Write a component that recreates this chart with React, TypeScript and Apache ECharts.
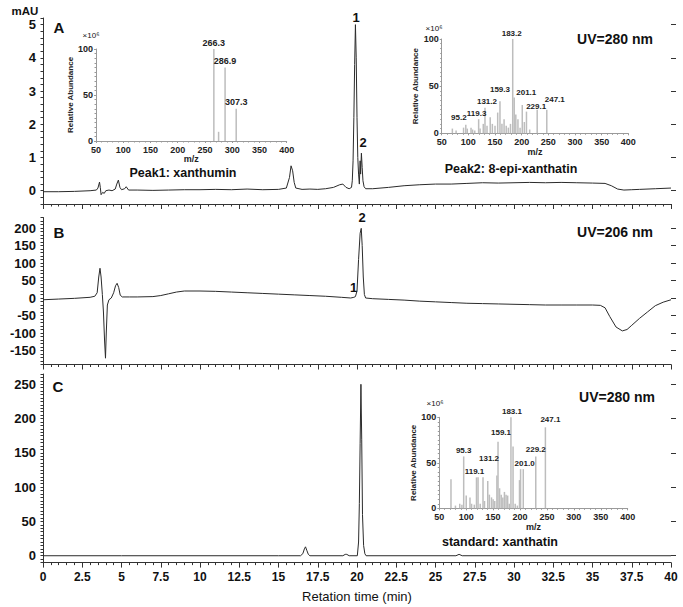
import React, { useEffect, useRef } from 'react';
import * as echarts from 'echarts';

// ---- Chromatogram traces: [time (min), signal] ----
const traceA: [number, number][] = [
  [0, -0.03], [1, -0.03], [2, -0.02], [3, 0.0], [3.4, 0.02], [3.5, 0.08], [3.6, 0.26], [3.65, 0.1],
  [3.7, -0.12], [3.8, -0.05], [3.9, -0.08], [4.0, 0.0], [4.2, 0.02], [4.4, 0.0], [4.6, 0.05],
  [4.7, 0.2], [4.8, 0.32], [4.9, 0.1], [5.0, 0.03], [5.2, 0.06], [5.3, 0.12], [5.45, 0.02],
  [6, 0.02], [7, 0.01], [8, 0.02], [9, 0.03], [10, 0.03], [11, 0.04], [12, 0.03], [13, 0.05],
  [14, 0.03], [15, 0.04], [15.5, 0.08], [15.7, 0.4], [15.8, 0.75], [15.9, 0.6], [16.0, 0.25],
  [16.1, 0.08], [16.5, 0.04], [17, 0.05], [17.5, 0.04], [18, 0.06], [18.5, 0.1], [18.9, 0.18],
  [19.1, 0.2], [19.3, 0.1], [19.5, 0.06], [19.65, 0.1], [19.7, 0.3], [19.75, 0.9], [19.8, 2.2],
  [19.85, 3.8], [19.9, 5.0], [19.95, 4.0], [20.0, 2.2], [20.05, 1.0], [20.1, 0.5], [20.15, 0.2],
  [20.2, 0.9], [20.23, 0.5], [20.28, 1.13], [20.33, 0.7], [20.38, 0.3], [20.45, 0.12], [20.55, 0.06],
  [21, 0.06], [22, 0.1], [23, 0.15], [24, 0.18], [25, 0.2], [26, 0.2], [27, 0.22], [28, 0.24],
  [29, 0.23], [30, 0.24], [31, 0.25], [32, 0.24], [33, 0.25], [34, 0.24], [35, 0.23], [35.8, 0.22],
  [36.2, 0.15], [36.6, 0.05], [37, 0.02], [37.5, 0.03], [38, 0.04], [39, 0.06], [40, 0.08],
];

const traceB: [number, number][] = [
  [0, -5], [1, -3], [2, -1], [3, 2], [3.3, 5], [3.45, 15], [3.55, 60], [3.63, 85], [3.7, 60],
  [3.78, 10], [3.85, -40], [3.92, -120], [3.98, -172], [4.03, -100], [4.1, -20], [4.2, -5],
  [4.35, 0], [4.5, 15], [4.62, 35], [4.72, 42], [4.82, 30], [4.92, 8], [5.05, 3], [5.5, 3],
  [6, 3], [7, 4], [7.5, 7], [8, 12], [8.5, 17], [9, 20], [10, 20], [11, 19], [12, 17], [13, 15],
  [14, 13], [15, 11], [16, 9], [17, 7], [18, 5], [19, 2], [19.6, 0], [19.8, 2], [19.9, 4],
  [20.0, 20], [20.1, 110], [20.2, 185], [20.27, 199], [20.33, 150], [20.4, 60], [20.47, 10],
  [20.55, 0], [21, -2], [22, -4], [23, -6], [24, -9], [25, -11], [26, -13], [27, -15], [28, -16],
  [29, -17], [30, -18], [31, -19], [32, -20], [33, -20], [34, -20], [35, -20], [35.5, -21],
  [35.8, -28], [36.1, -53], [36.5, -83], [36.9, -94], [37.2, -90], [37.5, -78], [38, -58],
  [38.5, -40], [39, -22], [39.5, -12], [40, -5],
];

const traceC: [number, number][] = [
  [0, 0], [5, 0], [10, 0], [15, 0], [16.4, 0], [16.55, 3], [16.65, 10], [16.72, 13], [16.8, 8],
  [16.9, 2], [17.0, 0], [19.1, 0], [19.25, 2], [19.35, 2], [19.5, 0], [20.02, 0], [20.1, 20],
  [20.15, 76], [20.2, 164], [20.25, 250], [20.3, 170], [20.35, 60], [20.42, 15], [20.5, 3],
  [20.58, 0], [26.3, 0], [26.5, 2], [26.7, 0], [30, 0], [40, 0],
];

// ---- Mass spectra (m/z, relative abundance, label) ----
const ms1MZ = [266.3, 275, 286.9, 307.3];
const ms1Abund = [100, 10, 80, 35];
const ms1Labels = ['266.3', '', '286.9', '307.3'];

const ms2MZ = [70, 77, 91, 95.2, 98, 105, 108, 112, 119.3, 122, 128, 131.2, 135, 141, 145, 150, 155, 159.3,
  163, 167, 171, 175, 179, 183.2, 186, 189, 193, 197, 201.1, 205, 209, 215, 229.1, 247.1];
const ms2Abund = [5, 3, 6, 9, 5, 6, 4, 3, 15, 5, 10, 27, 8, 17, 10, 8, 22, 34,
  10, 15, 8, 6, 10, 100, 38, 20, 15, 6, 30, 12, 23, 4, 25, 25];
const ms2Labels = ['', '', '', '95.2', '', '', '', '', '119.3', '', '', '131.2', '', '', '', '', '', '159.3',
  '', '', '', '', '', '183.2', '', '', '', '', '201.1', '', '', '', '229.1', '247.1'];

const ms3MZ = [71.7, 80, 88, 92, 95.3, 100, 107, 110, 115, 119.1, 122, 126, 131.2, 134, 140, 143, 147, 150,
  153, 157, 159.1, 162, 165, 168, 171, 174, 177, 180, 183.1, 187, 191, 195, 199, 201.0, 206, 229.2, 247.1];
const ms3Abund = [32, 3, 5, 4, 57, 14, 12, 5, 4, 34, 34, 5, 34, 8, 30, 15, 12, 10,
  8, 36, 73, 22, 15, 12, 18, 15, 14, 5, 100, 68, 5, 3, 31, 43, 43, 57, 89];
const ms3Labels = ['', '', '', '', '95.3', '', '', '', '', '119.1', '', '', '131.2', '', '', '', '', '',
  '', '', '159.1', '', '', '', '', '', '', '', '183.1', '', '', '', '', '201.0', '', '229.2', '247.1'];

const majorA = [0, 1, 2, 3, 4, 5];
const majorB = [-150, -100, -50, 0, 50, 100, 150, 200];
const majorC = [0, 50, 100, 150, 200, 250];

// ---- styling ----
const ARIAL = "'Liberation Sans', Arial, sans-serif";
const AX = '#333';
const INSET_AX = '#9a9a9a';

// label nudges (pixels) so the peak labels sit as in the reference
const labelNudge: Record<string, [number, number]>[] = [
  {},
  {
    '95.2': [-7, -1], '119.3': [-2, 0], '131.2': [2, 0], '159.3': [0, -6], '183.2': [-1, 0],
    '201.1': [4, -7], '229.1': [-1, 3], '247.1': [8, -4],
  },
  {
    '95.3': [0, 0], '119.1': [-2, 0], '131.2': [6, -13], '159.1': [3, -3], '183.1': [1, 0],
    '201.0': [4, 0], '229.2': [0, -1], '247.1': [5, -2],
  },
];

function buildBars(mz: number[], ab: number[], labels: string[], nudge: Record<string, [number, number]>) {
  return mz.map((m, i) => ({
    value: [m, ab[i]],
    label: { show: !!labels[i], formatter: labels[i], offset: nudge[labels[i]] || [0, 0] },
  }));
}

export default function App() {
  const ref = useRef<HTMLDivElement>(null);
  useEffect(() => {
    document.body.style.margin = '0';
    const chart = echarts.init(ref.current!, undefined, { renderer: 'svg' });

    const mainGrids = [
      { left: 43, top: 18, width: 628, height: 186 },
      { left: 43, top: 217.5, width: 628, height: 147 },
      { left: 43, top: 374, width: 628, height: 188.6 },
    ];
    const insetGrids = [
      { left: 96, top: 49, width: 190.7, height: 92 },
      { left: 441.7, top: 39, width: 186.6, height: 94.3 },
      { left: 439.3, top: 417.3, width: 188.4, height: 91 },
    ];

    const mainX = [0, 1, 2].map((g) => ({
      type: 'value', gridIndex: g, min: 0, max: 40, interval: 2.5,
      axisLine: { onZero: false, lineStyle: { color: AX, width: 1 } },
      axisTick: { show: true, length: 5, lineStyle: { color: AX } },
      minorTick: { show: true, splitNumber: 5, length: 2.5, lineStyle: { color: AX } },
      splitLine: { show: false },
      axisLabel: g === 2
        ? { show: true, fontSize: 12, fontWeight: 'bold', color: '#111', fontFamily: ARIAL, margin: 8 }
        : { show: false },
      name: g === 2 ? 'Retation time (min)' : '',
      nameLocation: 'middle', nameGap: 27,
      nameTextStyle: { fontSize: 13, color: '#111', fontFamily: ARIAL },
    }));

    const yRanges = [
      { min: -0.4, max: 5.2, minor: 0.2, major: majorA },
      { min: -190, max: 230, minor: 10, major: majorB },
      { min: -10, max: 265, minor: 5, major: majorC },
    ];
    const mainY = yRanges.map((r, g) => ({
      type: 'value', gridIndex: g, min: r.min, max: r.max, interval: r.minor,
      axisLine: { show: true, onZero: false, lineStyle: { color: AX, width: 1 } },
      axisTick: { show: true, length: 2.5, lineStyle: { color: AX } },
      splitLine: { show: false },
      axisLabel: {
        show: true, customValues: r.major, fontSize: 13, fontWeight: 'bold', color: '#111',
        fontFamily: ARIAL, margin: 7,
      },
    }));
    const majorY = yRanges.map((r, g) => ({
      type: 'value', gridIndex: g, min: r.min, max: r.max,
      axisLine: { show: false, onZero: false },
      axisTick: { show: true, customValues: r.major, length: 5, lineStyle: { color: AX } },
      splitLine: { show: false },
      axisLabel: { show: false },
    }));

    const insetTickFont = { fontSize: 9, fontWeight: 'bold', color: '#222', fontFamily: ARIAL };
    const insetPeakFont = { fontSize: 8, fontWeight: 'bold', color: '#222', fontFamily: ARIAL };
    const insetX = [0, 1, 2].map((i) => ({
      type: 'value', gridIndex: 3 + i, min: 50, max: 400, interval: 50,
      axisLine: { onZero: false, lineStyle: { color: INSET_AX, width: 1 } },
      axisTick: { show: true, length: 2, lineStyle: { color: INSET_AX } },
      minorTick: { show: true, splitNumber: 5, length: 1.5, lineStyle: { color: INSET_AX } },
      splitLine: { show: false },
      axisLabel: { ...insetTickFont, margin: 4 },
      name: 'm/z', nameLocation: 'middle', nameGap: 13,
      nameTextStyle: { fontSize: 9, fontWeight: 'bold', color: '#222', fontFamily: ARIAL },
    }));
    const insetY = [0, 1, 2].map((i) => ({
      type: 'value', gridIndex: 3 + i, min: 0, max: 100, interval: 50,
      axisLine: { show: true, onZero: false, lineStyle: { color: INSET_AX, width: 1 } },
      axisTick: { show: true, length: 2, lineStyle: { color: INSET_AX } },
      minorTick: { show: true, splitNumber: 10, length: 1.5, lineStyle: { color: INSET_AX } },
      splitLine: { show: false },
      axisLabel: { ...insetTickFont, margin: 3 },
      name: 'Relative Abundance', nameLocation: 'middle', nameRotate: 90,
      nameGap: i === 0 ? 15 : 14,
      nameTextStyle: { fontSize: 8, fontWeight: 'bold', color: '#222', fontFamily: ARIAL },
    }));

    const lineSeries = [traceA, traceB, traceC].map((d, g) => ({
      type: 'line', xAxisIndex: g, yAxisIndex: g, data: d, symbol: 'none',
      lineStyle: { color: '#2b2b2b', width: 1 }, z: 3,
    }));
    const barSeries = [
      buildBars(ms1MZ, ms1Abund, ms1Labels, labelNudge[0]),
      buildBars(ms2MZ, ms2Abund, ms2Labels, labelNudge[1]),
      buildBars(ms3MZ, ms3Abund, ms3Labels, labelNudge[2]),
    ].map((d, i) => ({
      type: 'bar', xAxisIndex: 3 + i, yAxisIndex: 3 + i, data: d, barWidth: 1.5,
      itemStyle: { color: '#bdbdbd' },
      label: { position: 'top', distance: 2, ...(i === 0 ? insetTickFont : insetPeakFont) },
    }));

    const txt = (text: string, x: number, y: number, font: string, align = 'center') => ({
      type: 'text', x, y, z: 10,
      style: { text, font, fill: '#111', textAlign: align, textVerticalAlign: 'middle', align, verticalAlign: 'middle' },
    });
    const B13 = `bold 13px ${ARIAL}`;
    const graphics = [
      txt('mAU', 25, 11, `bold 11.5px ${ARIAL}`),
      txt('A', 59, 27, `bold 15px ${ARIAL}`),
      txt('B', 59, 232, `bold 15px ${ARIAL}`),
      txt('C', 58, 386, `bold 15px ${ARIAL}`),
      txt('UV=280 nm', 615, 39, `bold 14px ${ARIAL}`),
      txt('UV=206 nm', 615, 232, `bold 14px ${ARIAL}`),
      txt('UV=280 nm', 617, 397, `bold 14px ${ARIAL}`),
      txt('1', 356, 17.5, B13),
      txt('2', 363, 142.5, B13),
      txt('2', 362, 217, B13),
      txt('1', 353.5, 287.5, B13),
      txt('Peak1: xanthumin', 183, 173, `bold 12.5px ${ARIAL}`),
      txt('Peak2: 8-epi-xanthatin', 511, 169, `bold 12.5px ${ARIAL}`),
      txt('standard: xanthatin', 500, 542, `bold 12.5px ${ARIAL}`),
      txt('×10⁶', 91, 35, `8px ${ARIAL}`),
      txt('×10⁶', 434, 28.5, `8px ${ARIAL}`),
      txt('×10⁶', 435, 403, `8px ${ARIAL}`),
    ];

    chart.setOption({
      animation: false,
      backgroundColor: '#ffffff',
      grid: [...mainGrids, ...insetGrids],
      xAxis: [...mainX, ...insetX],
      yAxis: [...mainY, ...insetY, ...majorY],
      series: [...lineSeries, ...barSeries],
      graphic: graphics,
    });
    return () => chart.dispose();
  }, []);
  return <div ref={ref} style={{ width: 683, height: 607 }} />;
}
